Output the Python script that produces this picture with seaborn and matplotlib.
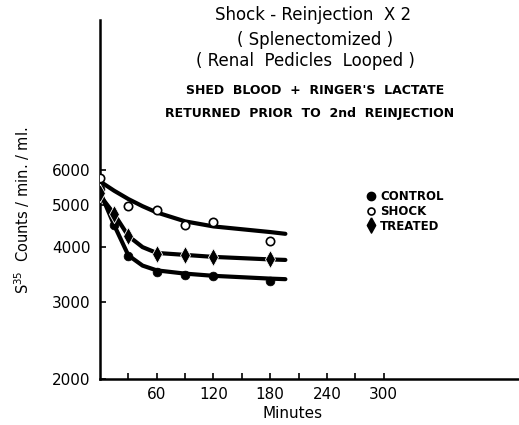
import numpy as np
import pandas as pd
import seaborn as sns
import matplotlib.pyplot as plt
from matplotlib.lines import Line2D

# Valori (minuti, conteggi S35 / min / ml)
time_control = [0, 15, 30, 60, 90, 120, 180]
control = [5420, 4490, 3810, 3510, 3460, 3430, 3340]

time_shock = [0, 30, 60, 90, 120, 180]
shock = [5740, 4970, 4850, 4490, 4560, 4130]

time_treated = [0, 15, 30, 60, 90, 120, 180]
treated = [5310, 4760, 4240, 3850, 3830, 3800, 3750]

# Curve tracciate a mano
curve_t_control = [0, 15, 30, 45, 60, 90, 120, 180, 196]
curve_control = [5350, 4490, 3830, 3630, 3540, 3480, 3440, 3390, 3380]

curve_t_shock = [0, 15, 30, 45, 60, 90, 120, 180, 196]
curve_shock = [5650, 5380, 5150, 4960, 4800, 4580, 4460, 4330, 4290]

curve_t_treated = [0, 15, 30, 45, 60, 90, 120, 180, 196]
curve_treated = [5250, 4760, 4240, 4000, 3880, 3840, 3800, 3750, 3740]

x_ticks = [30, 60, 90, 120, 150, 180, 210, 240, 270, 300]
x_labels = ['', '60', '', '120', '', '180', '', '240', '', '300']
y_ticks = [2000, 3000, 4000, 5000, 6000]

sns.set_style('ticks', {'text.color': 'black', 'axes.labelcolor': 'black',
                        'xtick.color': 'black', 'ytick.color': 'black'})
plt.rcParams['font.family'] = ['DejaVu Sans']

# diamante stretto come nell'originale
thin_diamond = [(0, 1), (0.55, 0), (0, -1), (-0.55, 0), (0, 1)]

fig = plt.figure(figsize=(5.19, 4.25), dpi=100)
ax = fig.add_axes([100 / 519, 46 / 425, 419 / 519, 359 / 425])

lw = 3
sns.lineplot(x=curve_t_shock, y=curve_shock, ax=ax, color='black', lw=lw,
             estimator=None, sort=False)
sns.lineplot(x=curve_t_treated, y=curve_treated, ax=ax, color='black', lw=lw,
             estimator=None, sort=False)
sns.lineplot(x=curve_t_control, y=curve_control, ax=ax, color='black', lw=lw,
             estimator=None, sort=False)

sns.scatterplot(x=time_control, y=control, ax=ax, marker='o', s=40,
                color='black', edgecolor='black', linewidth=0.5, zorder=5)
sns.scatterplot(x=time_shock, y=shock, ax=ax, marker='o', s=36,
                facecolor='white', edgecolor='black', linewidth=1.2, zorder=5)
sns.scatterplot(x=time_treated, y=treated, ax=ax, marker=thin_diamond, s=170,
                color='black', edgecolor='white', linewidth=0.6, zorder=5)

ax.set_yscale('log')
ax.set_xlim(0, 443)
ax.set_ylim(2000, 13200)
ax.set_xticks(x_ticks)
ax.set_xticklabels(x_labels)
ax.set_yticks(y_ticks)
ax.set_yticklabels([str(v) for v in y_ticks])
ax.yaxis.set_minor_locator(plt.NullLocator())
ax.tick_params(axis='both', direction='in', length=4.5, width=1.2,
               labelsize=11, color='black', labelcolor='black')
ax.tick_params(axis='y', pad=7)
ax.tick_params(axis='x', pad=6)
sns.despine(ax=ax)
for s in ['left', 'bottom']:
    ax.spines[s].set_linewidth(1.8)
    ax.spines[s].set_color('black')
ax.set_xlabel('')
ax.set_ylabel('')

fig.text(293 / 519, 1 - 414 / 425, 'Minutes', ha='center', va='center', fontsize=11, color='black')
fig.text(22 / 519, 1 - 210 / 425, 'S$^{35}$  Counts / min. / ml.', rotation=90,
         ha='center', va='center', fontsize=10.5, color='black')

# Titoli
fig.text(313 / 519, 1 - 15 / 425, 'Shock - Reinjection  X 2', ha='center', va='center', fontsize=12)
fig.text(315 / 519, 1 - 40 / 425, '( Splenectomized )', ha='center', va='center', fontsize=12)
fig.text(305 / 519, 1 - 61 / 425, '( Renal  Pedicles  Looped )', ha='center', va='center', fontsize=12)
fig.text(315 / 519, 1 - 90 / 425, 'SHED  BLOOD  +  RINGER\'S  LACTATE', ha='center', va='center',
         fontsize=9, fontweight='bold')
fig.text(310 / 519, 1 - 113 / 425, 'RETURNED  PRIOR  TO  2nd  REINJECTION', ha='center', va='center',
         fontsize=9, fontweight='bold')

handles = [
    Line2D([], [], ls='', marker='o', markersize=6, color='black'),
    Line2D([], [], ls='', marker='o', markersize=5, markerfacecolor='white',
           markeredgecolor='black', markeredgewidth=1.2),
    Line2D([], [], ls='', marker=thin_diamond, markersize=11, color='black'),
]
fig.legend(handles, ['CONTROL', 'SHOCK', 'TREATED'], loc='upper left',
           bbox_to_anchor=(366 / 519, 1 - 190 / 425), frameon=False,
           handlelength=0.8, handletextpad=0.4, labelspacing=0.15,
           borderaxespad=0, borderpad=0, prop={'size': 8.5, 'weight': 'bold'})

fig.savefig('out.png', dpi=100)
